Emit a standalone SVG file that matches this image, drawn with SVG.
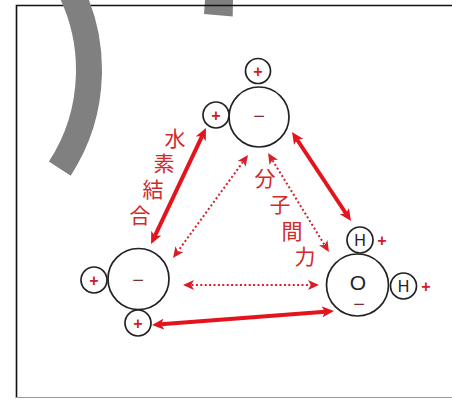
<svg xmlns="http://www.w3.org/2000/svg" width="452" height="400" viewBox="0 0 452 400">
  <style>
    .atom { fill: #fff; stroke: #222; stroke-width: 1.7; }
    .plus { fill: #d01c24; font-family: "Liberation Sans", Arial, sans-serif; font-size: 16px; font-weight: bold; text-anchor: middle; dominant-baseline: central; }
    .minus { fill: #7a3030; font-family: "Liberation Sans", Arial, sans-serif; font-size: 20px; text-anchor: middle; dominant-baseline: central; }
    .elem { fill: #222; font-family: "Liberation Sans", Arial, sans-serif; text-anchor: middle; dominant-baseline: central; }
    .label { fill: #d02a2a; font-family: "Noto Sans CJK JP", "Noto Sans CJK SC", sans-serif; font-size: 21px; text-anchor: middle; dominant-baseline: central; }
    .bond { stroke: #e4141e; stroke-width: 4; fill: none; }
    .weak { stroke: #d81e28; stroke-width: 2; stroke-dasharray: 2 2.4; fill: none; }
  </style>
  <defs>
    <marker id="headSolid" viewBox="0 0 12 11" refX="3" refY="5.5" markerWidth="12" markerHeight="11" markerUnits="userSpaceOnUse" orient="auto-start-reverse">
      <path d="M0,0 L12,5.5 L0,11 L3,5.5 z" fill="#e4141e"/>
    </marker>
    <marker id="headDot" viewBox="0 0 11 10" refX="2.5" refY="5" markerWidth="11" markerHeight="10" markerUnits="userSpaceOnUse" orient="auto-start-reverse">
      <path d="M0,0 L11,5 L0,10 L2.8,5 z" fill="#d81e28"/>
    </marker>
  </defs>

  <rect width="452" height="400" fill="#fff"/>

  <!-- grey block at the top edge -->
  <polygon points="205,0 233,0 232.7,16.5 204,14" fill="#808080"/>

  <!-- frame -->
  <path d="M16.5,398 V5.5 H452" fill="none" stroke="#111" stroke-width="1.6"/>
  <line x1="16" y1="397.5" x2="452" y2="397.5" stroke="#999" stroke-width="1.2"/>

  <!-- grey arc -->
  <path d="M64.7,-20.5 A181,181 0 0 1 59.8,168.6" fill="none" stroke="#808080" stroke-width="26"/>

  <!-- connectors -->
  <g id="connectors">
    <line class="bond" x1="202.1" y1="136.1" x2="154.9" y2="235.9" marker-start="url(#headSolid)" marker-end="url(#headSolid)"/>
    <line class="bond" x1="297" y1="139.5" x2="346" y2="213.5" marker-start="url(#headSolid)" marker-end="url(#headSolid)"/>
    <line class="bond" x1="161" y1="324.3" x2="325" y2="311.7" marker-start="url(#headSolid)" marker-end="url(#headSolid)"/>
    <line class="weak" x1="191.5" y1="285" x2="310.5" y2="285" marker-start="url(#headDot)" marker-end="url(#headDot)"/>
    <line class="weak" x1="243" y1="161.9" x2="178" y2="251.1" marker-start="url(#headDot)" marker-end="url(#headDot)"/>
    <line class="weak" x1="272.5" y1="160.2" x2="324.5" y2="244.8" marker-start="url(#headDot)" marker-end="url(#headDot)"/>
  </g>

  <!-- labels -->
  <g id="label-hbond">
    <text class="label" x="175" y="137">水</text>
    <text class="label" x="164" y="162">素</text>
    <text class="label" x="153" y="188">結</text>
    <text class="label" x="140" y="214">合</text>
  </g>
  <g id="label-vdw">
    <text class="label" x="265" y="177">分</text>
    <text class="label" x="280" y="203">子</text>
    <text class="label" x="292" y="230">間</text>
    <text class="label" x="305" y="255">力</text>
  </g>

  <!-- top molecule -->
  <g id="mol-top">
    <circle class="atom" cx="259" cy="117" r="30"/>
    <text class="minus" x="259" y="116">−</text>
    <circle class="atom" cx="258" cy="71" r="12.5"/>
    <text class="plus" x="258" y="71">+</text>
    <circle class="atom" cx="216" cy="115" r="13"/>
    <text class="plus" x="216" y="115">+</text>
  </g>

  <!-- left molecule -->
  <g id="mol-left">
    <circle class="atom" cx="138.5" cy="279" r="30.5"/>
    <text class="minus" x="138" y="280">−</text>
    <circle class="atom" cx="94" cy="280" r="13"/>
    <text class="plus" x="94" y="280">+</text>
    <circle class="atom" cx="138" cy="323" r="13"/>
    <text class="plus" x="138" y="323">+</text>
  </g>

  <!-- water molecule -->
  <g id="mol-water">
    <circle class="atom" cx="357.5" cy="285" r="31"/>
    <text class="elem" x="358" y="282" font-size="21">O</text>
    <text class="minus" x="359" y="303.5" font-size="14" fill="#b02a2a">−</text>
    <circle class="atom" cx="360" cy="240" r="13"/>
    <text class="elem" x="360" y="240" font-size="16">H</text>
    <text class="plus" x="382" y="240">+</text>
    <circle class="atom" cx="403.5" cy="286" r="13"/>
    <text class="elem" x="403.5" y="286" font-size="16">H</text>
    <text class="plus" x="426" y="286">+</text>
  </g>
</svg>
